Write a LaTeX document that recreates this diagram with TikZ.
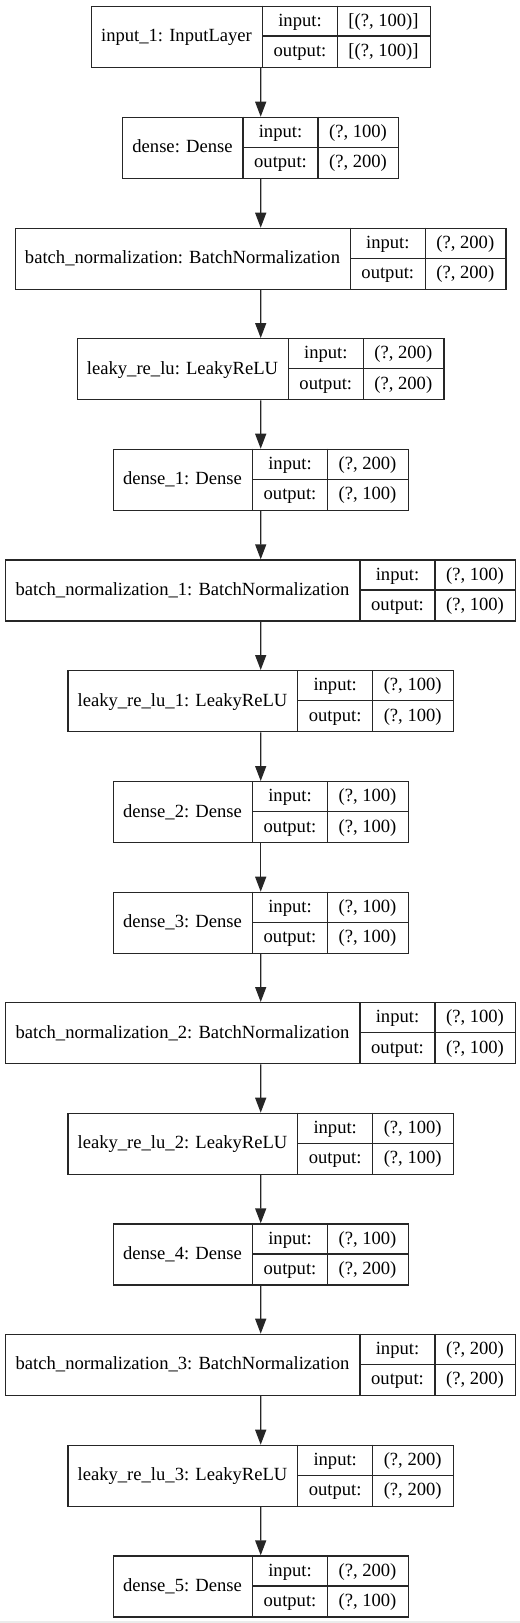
\documentclass[tikz,border=0pt]{standalone}
\usepackage{fontspec}
\setmainfont{Liberation Serif}
\usetikzlibrary{arrows.meta}
\tikzset{
  layerbox/.style={draw=black!85, line width=1.4bp, inner sep=0pt, minimum height=61bp, rectangle},
  rule/.style={draw=black!85, line width=1.4bp},
  lbl/.style={anchor=base, inner sep=0pt, font=\fontsize{18.6bp}{22bp}\selectfont},
  arr/.style={draw=black!85, line width=1.4bp, -{Triangle[length=15bp, width=11bp]}}
}
\newcommand\klayer[7]{%
  \pgfmathsetmacro\kxa{260-(#3+75+#4)/2}%
  \pgfmathsetmacro\kxb{\kxa+#3}%
  \pgfmathsetmacro\kxc{\kxb+75}%
  \pgfmathsetmacro\kxd{\kxc+#4}%
  \pgfmathsetmacro\kym{#2+30.5}%
  \pgfmathsetmacro\kyb{#2+61}%
  \pgfmathsetmacro\kwd{#3+75+#4}%
  \node[layerbox, minimum width=\kwd bp, anchor=north west] (#1) at (\kxa,#2) {};
  \draw[rule] (\kxb,#2) -- (\kxb,\kyb);
  \draw[rule] (\kxc,#2) -- (\kxc,\kyb);
  \draw[rule] (\kxb,\kym) -- (\kxd,\kym);
  \node[lbl] (#1-name) at ({(\kxa+\kxb)/2},{#2+36}) {#5};
  \node[lbl] (#1-ik) at ({(\kxb+\kxc)/2},{#2+20.75}) {input:};
  \node[lbl] (#1-ok) at ({(\kxb+\kxc)/2},{#2+51.25}) {output:};
  \node[lbl] (#1-iv) at ({(\kxc+\kxd)/2},{#2+20.75}) {#6};
  \node[lbl] (#1-ov) at ({(\kxc+\kxd)/2},{#2+51.25}) {#7};
}
\begin{document}
\begin{tikzpicture}[x=1bp,y=-1bp]
\useasboundingbox (0,0) rectangle (520,1623);
\fill[white] (0,0) rectangle (520,1623);
\fill[black!8] (0,1621) rectangle (520,1623);

\klayer{L1}{5.7}{172}{92}{input\_1: InputLayer}{[(?, 100)]}{[(?, 100)]}
\klayer{L2}{116.7}{121}{80}{dense: Dense}{(?, 100)}{(?, 200)}
\klayer{L3}{227.7}{335.6}{80}{batch\_normalization: BatchNormalization}{(?, 200)}{(?, 200)}
\klayer{L4}{338}{211.6}{80}{leaky\_re\_lu: LeakyReLU}{(?, 200)}{(?, 200)}
\klayer{L5}{448.7}{140}{80}{dense\_1: Dense}{(?, 200)}{(?, 100)}
\klayer{L6}{559.3}{355}{80}{batch\_normalization\_1: BatchNormalization}{(?, 100)}{(?, 100)}
\klayer{L7}{670}{230.4}{80}{leaky\_re\_lu\_1: LeakyReLU}{(?, 100)}{(?, 100)}
\klayer{L8}{781}{140}{80}{dense\_2: Dense}{(?, 100)}{(?, 100)}
\klayer{L9}{891.7}{140}{80}{dense\_3: Dense}{(?, 100)}{(?, 100)}
\klayer{L10}{1002}{355}{80}{batch\_normalization\_2: BatchNormalization}{(?, 100)}{(?, 100)}
\klayer{L11}{1112.7}{230.4}{80}{leaky\_re\_lu\_2: LeakyReLU}{(?, 100)}{(?, 100)}
\klayer{L12}{1223.3}{140}{80}{dense\_4: Dense}{(?, 100)}{(?, 200)}
\klayer{L13}{1333.7}{355}{80}{batch\_normalization\_3: BatchNormalization}{(?, 200)}{(?, 200)}
\klayer{L14}{1444.7}{230.4}{80}{leaky\_re\_lu\_3: LeakyReLU}{(?, 200)}{(?, 200)}
\klayer{L15}{1555.3}{140}{80}{dense\_5: Dense}{(?, 200)}{(?, 100)}

\foreach \a/\b in {L1/L2,L2/L3,L3/L4,L4/L5,L5/L6,L6/L7,L7/L8,L8/L9,L9/L10,L10/L11,L11/L12,L12/L13,L13/L14,L14/L15}
  \draw[arr] (\a.south) -- (\b.north);
\end{tikzpicture}
\end{document}
